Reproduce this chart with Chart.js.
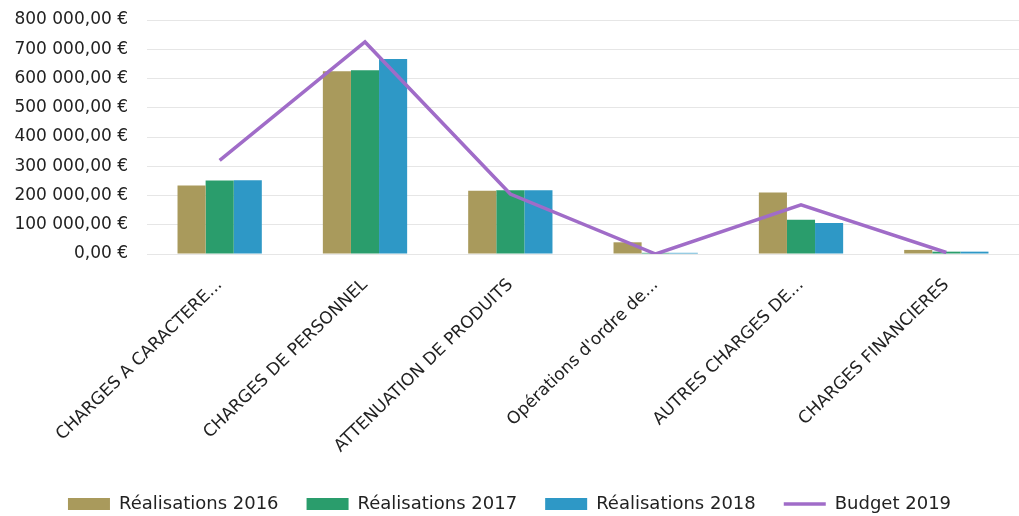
<!DOCTYPE html>
<html><head><meta charset="utf-8">
<script src="https://cdn.jsdelivr.net/npm/chart.js@4/dist/chart.umd.min.js"></script>
<style>html,body{margin:0;padding:0;background:#fff}#w{width:1019px;height:516px}</style>
</head><body><div id="w"><canvas id="c"></canvas></div>
<script>
const categories = ["CHARGES A CARACTERE...", "CHARGES DE PERSONNEL", "ATTENUATION DE PRODUITS", "Opérations d'ordre de...", "AUTRES CHARGES DE...", "CHARGES FINANCIERES"];
const real2016 = [234000, 625000, 216000, 40000, 210000, 14000];
const real2017 = [251000, 628000, 218000, 4000, 117000, 8000];
const real2018 = [252000, 667000, 218000, 4000, 106000, 8000];
const budget2019 = [320000, 725000, 205000, 0, 168000, 5000];
const seriesNames = ["Réalisations 2016", "Réalisations 2017", "Réalisations 2018", "Budget 2019"];

function fmt(v){
  const s = Math.round(v).toString().replace(/\B(?=(\d{3})+(?!\d))/g, " ");
  return s + ",00 €\u2002\u2002";
}
Chart.defaults.font.family = "'DejaVu Sans',sans-serif";
Chart.defaults.color = "#222";
new Chart(document.getElementById('c'), {
  type: 'bar',
  data: {
    labels: categories,
    datasets: [
      {type:'line', label: seriesNames[3], data: budget2019, borderColor:'#a06cc8', backgroundColor:'#a06cc8', borderWidth:3.5, pointRadius:0, tension:0, order:0},
      {label: seriesNames[0], data: real2016, backgroundColor:'#a99a5c', order:1},
      {label: seriesNames[1], data: real2017, backgroundColor:'#2a9d6c', order:1},
      {label: seriesNames[2], data: real2018, backgroundColor:'#2e98c6', order:1}
    ]
  },
  options: {
    responsive:true, maintainAspectRatio:false, animation:false,
    layout:{padding:{left:0,right:0,top:20,bottom:-7}},
    datasets:{bar:{categoryPercentage:0.58, barPercentage:1.0}},
    scales:{
      x:{grid:{display:false}, border:{display:false},
         afterFit:s=>{s.height=213;},
         ticks:{maxRotation:44, minRotation:44, autoSkip:false, font:{size:17}, color:'#222', padding:13}},
      y:{min:0, max:800000, border:{display:false},
         afterFit:s=>{s.width=147;},
         grid:{color:'#e6e6e6', drawTicks:false},
         ticks:{stepSize:100000, callback:v=>fmt(v), font:{size:17}, color:'#222', padding:2}}
    },
    plugins:{
      legend:{position:'bottom',
        labels:{usePointStyle:true, pointStyleWidth:42, boxWidth:42, boxHeight:12, font:{size:18}, color:'#222', padding:28,
          generateLabels:(chart)=>{
            const items = Chart.defaults.plugins.legend.labels.generateLabels(chart);
            items.forEach(it=>{
              const ds = chart.data.datasets[it.datasetIndex];
              if (ds.type==='line') { it.pointStyle='line'; it.lineWidth=3.5; it.strokeStyle=ds.borderColor; }
              else { it.pointStyle='rect'; it.lineWidth=0; }
            });
            return items;
          },
          sort:(a,b)=>{const o=[1,2,3,0];return o.indexOf(a.datasetIndex)-o.indexOf(b.datasetIndex);}}},
      tooltip:{enabled:false}
    }
  }
});
</script></body></html>
